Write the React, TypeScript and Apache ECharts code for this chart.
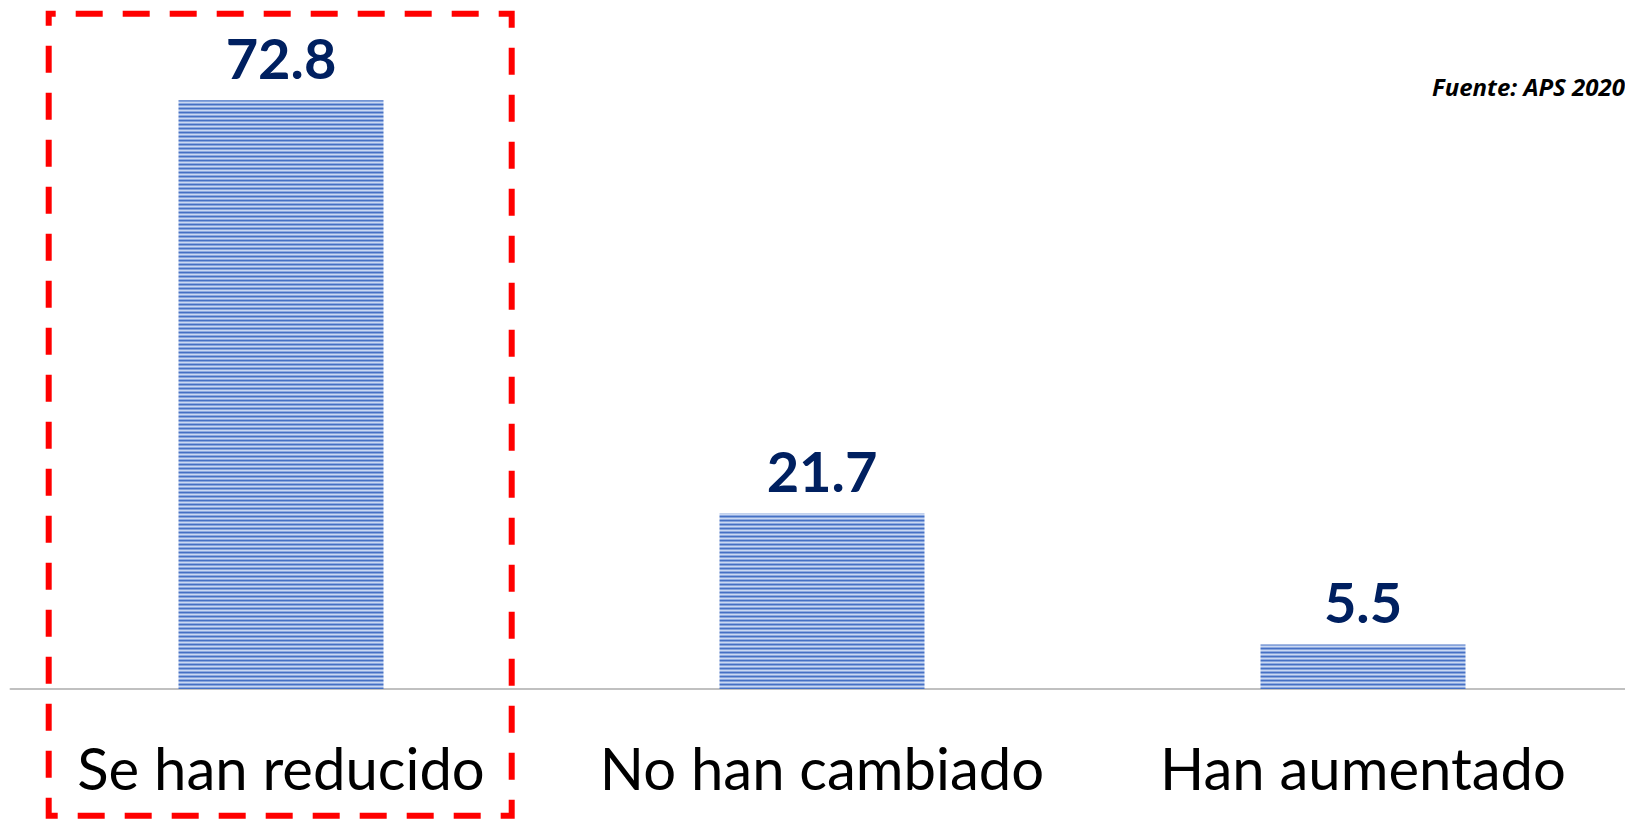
import React, { useEffect, useRef } from "react";
import * as echarts from "echarts";

const categories = ["Se han reducido", "No han cambiado", "Han aumentado"];
const values = [72.8, 21.7, 5.5];
const sourceText = "Fuente: APS 2020";

function makeStripePattern() {
  const c = document.createElement("canvas");
  c.width = 4;
  c.height = 4;
  const ctx = c.getContext("2d")!;
  const rows = ["#4670c4", "#86a4dc", "#cad8f2", "#8eaae0"];
  rows.forEach((col, i) => {
    ctx.fillStyle = col;
    ctx.fillRect(0, i, 4, 1);
  });
  return { image: c, repeat: "repeat", imageWidth: 4, imageHeight: 4 } as any;
}

export default function App() {
  const ref = useRef<HTMLDivElement>(null);
  useEffect(() => {
    document.body.style.margin = "0";
    document.body.style.overflow = "hidden";
    const chart = echarts.init(ref.current!, null, { renderer: "svg" });
    chart.setOption({
      animation: false,
      backgroundColor: "#ffffff",
      grid: { left: 10.5, right: 1.5, top: 42, bottom: 130, containLabel: false },
      xAxis: {
        type: "category",
        data: categories,
        axisLine: { show: true, lineStyle: { color: "#c0c0c0", width: 2 } },
        axisTick: { show: false },
        axisLabel: {
          color: "#000000",
          fontFamily: "Lato",
          fontSize: 58,
          lineHeight: 58,
          margin: 49,
          interval: 0,
        },
      },
      yAxis: {
        type: "value",
        min: 0,
        max: 80,
        show: false,
        splitLine: { show: false },
      },
      series: [
        {
          type: "bar",
          data: values,
          barWidth: 205,
          itemStyle: { color: makeStripePattern() },
          label: {
            show: true,
            position: "top",
            distance: 15,
            color: "#002060",
            fontFamily: "Lato",
            fontWeight: "bold",
            fontSize: 56,
            formatter: (p: any) => p.value.toFixed(1),
          },
        },
      ],
      graphic: [
        {
          type: "text",
          left: 1432,
          top: 74,
          style: {
            text: sourceText,
            fill: "#000000",
            font: "italic bold 24px 'Open Sans'",
          },
        },
        {
          type: "rect",
          shape: { x: 48.7, y: 13.7, width: 463, height: 802 },
          style: {
            fill: "none",
            stroke: "#ff0000",
            lineWidth: 6,
            lineDash: [27, 20],
            lineDashOffset: 20,
          },
          z: 100,
        },
      ],
    });
    return () => chart.dispose();
  }, []);
  return (
    <div
      style={{
        position: "absolute",
        left: 0,
        top: 0,
        width: 1625,
        height: 819,
        overflow: "hidden",
        background: "#ffffff",
      }}
    >
      <div ref={ref} style={{ width: 1635, height: 819 }} />
    </div>
  );
}
